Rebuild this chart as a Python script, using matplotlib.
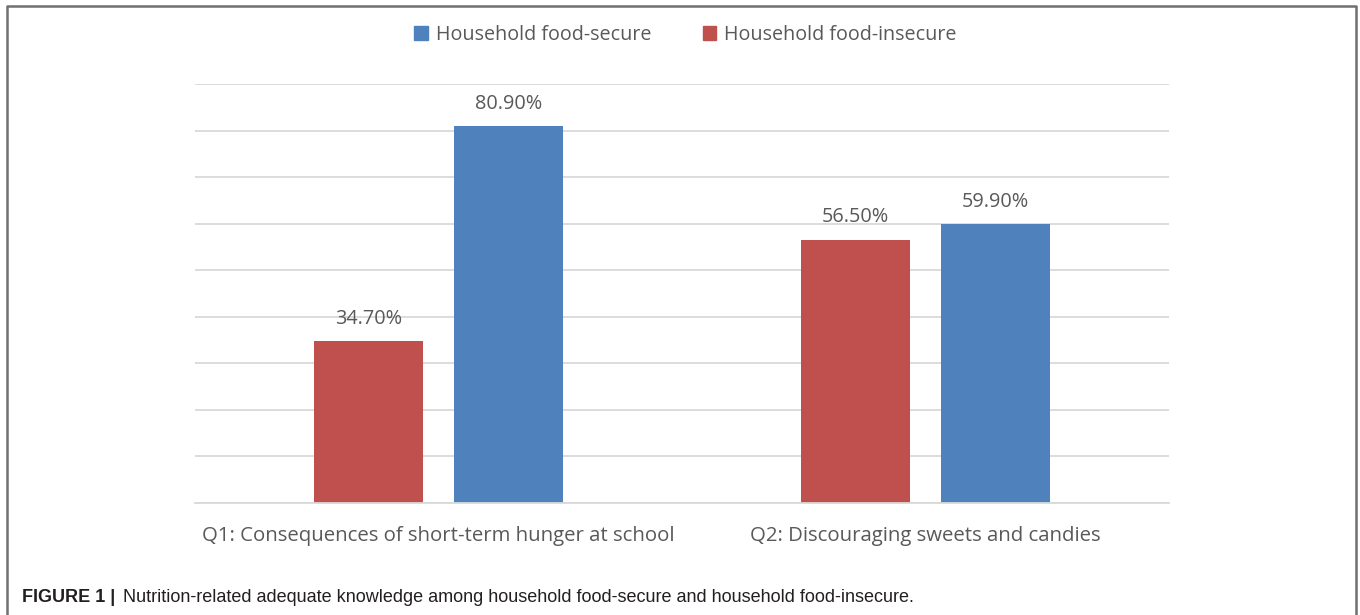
import matplotlib.pyplot as plt
from matplotlib.patches import Patch
from matplotlib.lines import Line2D

categories = ["Q1: Consequences of short-term hunger at school",
              "Q2: Discouraging sweets and candies"]
food_insecure = [34.7, 56.5]
food_secure = [80.9, 59.9]

red = "#c0504d"
blue = "#4f81bd"
gray = "#595959"

fig = plt.figure(figsize=(13.6, 6.15), dpi=100)
ax = fig.add_axes([195/1360, 1 - 503/615, 974/1360, 419/615])

x = [0, 1]
w = 0.223
gap = 0.064
off = (w + gap) / 2
b1 = ax.bar([i - off for i in x], food_insecure, w, color=red)
b2 = ax.bar([i + off for i in x], food_secure, w, color=blue)

for bars in (b1, b2):
    for r in bars:
        ax.text(r.get_x() + r.get_width() / 2, r.get_height() + 2.7,
                "%.2f%%" % r.get_height(), ha="center", va="bottom",
                fontsize=14.3, color=gray, family="Open Sans")

ax.set_xlim(-0.5, 1.5)
ax.set_ylim(0, 90)
ax.set_yticks(range(0, 91, 10))
ax.yaxis.grid(True, color="#d9d9d9", lw=1.3)
ax.set_axisbelow(True)
ax.tick_params(left=False, labelleft=False, bottom=False)
ax.set_xticks(x)
ax.set_xticklabels(categories, fontsize=14.7, color=gray, family="Open Sans")
ax.tick_params(axis="x", pad=13)
for s in ["top", "right", "left"]:
    ax.spines[s].set_visible(False)
ax.spines["bottom"].set_color("#d9d9d9")
ax.spines["bottom"].set_linewidth(1.3)

handles = [Patch(color=blue, label="Household food-secure"),
           Patch(color=red, label="Household food-insecure")]
fig.legend(handles=handles, loc="center", bbox_to_anchor=(0.504, 1 - 35/615),
           ncol=2, frameon=False, handlelength=0.7, handleheight=0.7,
           handletextpad=0.4, columnspacing=2.6,
           prop={"family": "Open Sans", "size": 14.2}, labelcolor=gray)

# figure frame (open at bottom)
fig.add_artist(Line2D([7/1360, 7/1360, 1356/1360, 1356/1360],
                      [0, 1 - 6/615, 1 - 6/615, 0],
                      transform=fig.transFigure, color="#707070", lw=1.8))

fig.text(22/1360, 1 - 598/615, "FIGURE 1 |", fontsize=13, weight="bold",
         family="Liberation Sans", color="#231f20", va="center")
fig.text(123/1360, 1 - 598/615,
         "Nutrition-related adequate knowledge among household food-secure and household food-insecure.",
         fontsize=13, family="Liberation Sans", color="#231f20", va="center")

fig.savefig("out.png", dpi=100)
